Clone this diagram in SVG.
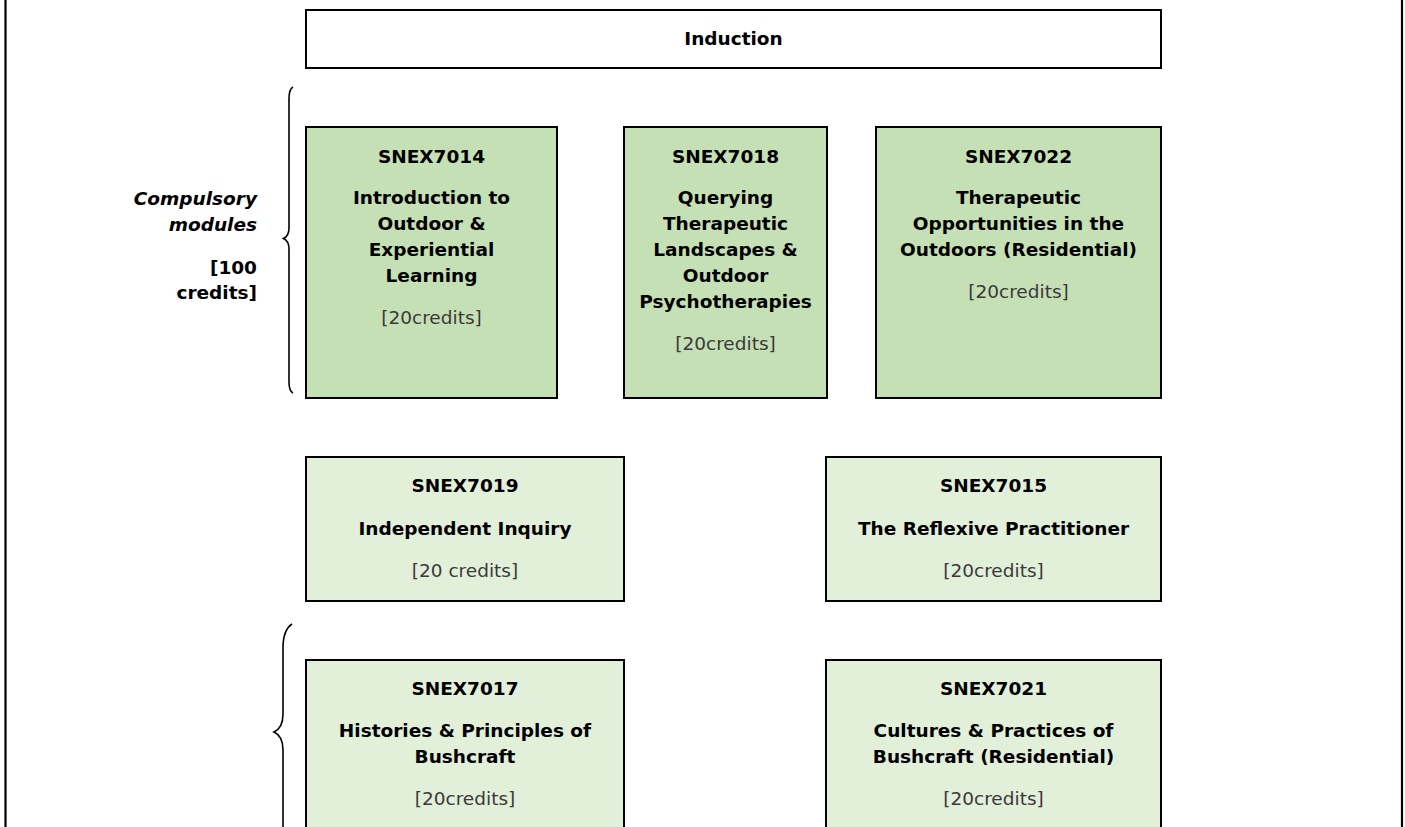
<svg xmlns="http://www.w3.org/2000/svg" width="1405" height="827" viewBox="0 0 1405 827">
  <style>
    text { font-family: "DejaVu Sans", Verdana, sans-serif; font-size: 18.5px; text-anchor: middle; fill: #000; }
    .b { font-weight: bold; }
    .bi { font-weight: bold; font-style: italic; }
    .cr { fill: #3a3a3a; }
    .lbl { text-anchor: end; }
    .box { stroke: #000; stroke-width: 2; }
    .core { fill: #c5e0b4; }
    .opt { fill: #e2efd9; }
    .plain { fill: #fff; }
    .brace { fill: none; stroke: #000; stroke-width: 1.6; }
    .edge { stroke: #000; stroke-width: 2.2; }
  </style>

  <rect x="0" y="0" width="1405" height="827" fill="#fff"/>

  <!-- page edges -->
  <line class="edge" x1="5.5" y1="0" x2="5.5" y2="827"/>
  <line class="edge" x1="1402" y1="0" x2="1402" y2="827"/>

  <g id="induction">
    <rect class="box plain" x="306" y="10" width="855" height="58"/>
    <text class="b" x="733.5" y="45">Induction</text>
  </g>

  <g id="compulsory-label">
    <text class="bi lbl" x="257" y="205">Compulsory</text>
    <text class="bi lbl" x="257" y="231">modules</text>
    <text class="b lbl" x="257" y="274">[100</text>
    <text class="b lbl" x="257" y="299">credits]</text>
  </g>

  <g id="connectors">
    <!-- bracket grouping the compulsory modules -->
    <path class="brace" d="M293,87 Q289,89 289,99 L289,228 Q289,236 283.5,238.5 Q289,241 289,249 L289,382 Q289,391 293,393"/>
    <!-- bracket grouping the lower modules -->
    <path class="brace" d="M292,624 Q283,630 283,648 L283,714 Q283,728 274,732 Q283,736 283,750 L283,830"/>
  </g>

  <g id="snex7014">
    <rect class="box core" x="306" y="127" width="251" height="271"/>
    <text class="b" x="431.5" y="163">SNEX7014</text>
    <text class="b" x="431.5" y="204">Introduction to</text>
    <text class="b" x="431.5" y="230">Outdoor &amp;</text>
    <text class="b" x="431.5" y="256">Experiential</text>
    <text class="b" x="431.5" y="282">Learning</text>
    <text class="cr" x="431.5" y="324">[20credits]</text>
  </g>

  <g id="snex7018">
    <rect class="box core" x="624" y="127" width="203" height="271"/>
    <text class="b" x="725.5" y="163">SNEX7018</text>
    <text class="b" x="725.5" y="204">Querying</text>
    <text class="b" x="725.5" y="230">Therapeutic</text>
    <text class="b" x="725.5" y="256">Landscapes &amp;</text>
    <text class="b" x="725.5" y="282">Outdoor</text>
    <text class="b" x="725.5" y="308">Psychotherapies</text>
    <text class="cr" x="725.5" y="350">[20credits]</text>
  </g>

  <g id="snex7022">
    <rect class="box core" x="876" y="127" width="285" height="271"/>
    <text class="b" x="1018.5" y="163">SNEX7022</text>
    <text class="b" x="1018.5" y="204">Therapeutic</text>
    <text class="b" x="1018.5" y="230">Opportunities in the</text>
    <text class="b" x="1018.5" y="256">Outdoors (Residential)</text>
    <text class="cr" x="1018.5" y="298">[20credits]</text>
  </g>

  <g id="snex7019">
    <rect class="box opt" x="306" y="457" width="318" height="144"/>
    <text class="b" x="465" y="492">SNEX7019</text>
    <text class="b" x="465" y="535">Independent Inquiry</text>
    <text class="cr" x="465" y="577">[20 credits]</text>
  </g>

  <g id="snex7015">
    <rect class="box opt" x="826" y="457" width="335" height="144"/>
    <text class="b" x="993.5" y="492">SNEX7015</text>
    <text class="b" x="993.5" y="535">The Reflexive Practitioner</text>
    <text class="cr" x="993.5" y="577">[20credits]</text>
  </g>

  <g id="snex7017">
    <rect class="box opt" x="306" y="660" width="318" height="190"/>
    <text class="b" x="465" y="695">SNEX7017</text>
    <text class="b" x="465" y="737">Histories &amp; Principles of</text>
    <text class="b" x="465" y="763">Bushcraft</text>
    <text class="cr" x="465" y="805">[20credits]</text>
  </g>

  <g id="snex7021">
    <rect class="box opt" x="826" y="660" width="335" height="190"/>
    <text class="b" x="993.5" y="695">SNEX7021</text>
    <text class="b" x="993.5" y="737">Cultures &amp; Practices of</text>
    <text class="b" x="993.5" y="763">Bushcraft (Residential)</text>
    <text class="cr" x="993.5" y="805">[20credits]</text>
  </g>
</svg>
